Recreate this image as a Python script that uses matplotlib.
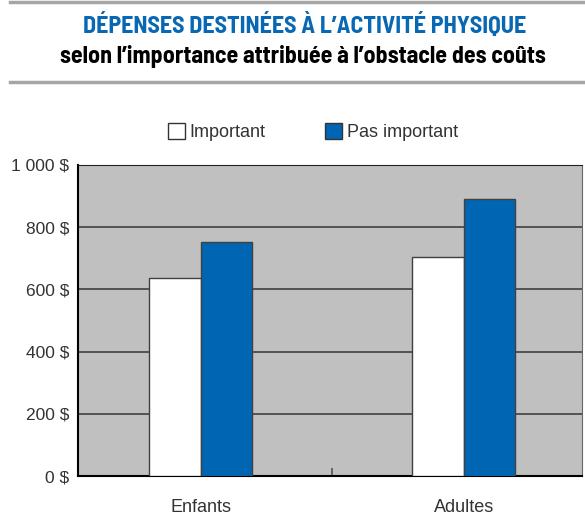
import matplotlib
matplotlib.use("Agg")
import matplotlib.pyplot as plt
from matplotlib.patches import Patch

categories = ["Enfants", "Adultes"]
important = [637, 704]
pas_important = [752, 891]
yticks = [0, 200, 400, 600, 800, 1000]
ytick_labels = ["0 $", "200 $", "400 $", "600 $", "800 $", "1 000 $"]

plt.rcParams["font.family"] = ["Liberation Sans", "DejaVu Sans"]
narrow = ["Barlow Semi Condensed", "Barlow Condensed", "Liberation Sans", "DejaVu Sans"]

fig = plt.figure(figsize=(5.85, 5.15), dpi=100)

# header lines and titles
fig.add_artist(plt.Line2D([10 / 585, 1], [1 - 1.5 / 515] * 2, color="#a6a6a6", lw=2.5))
fig.add_artist(plt.Line2D([10 / 585, 1], [1 - 82 / 515] * 2, color="#a6a6a6", lw=2.5))
fig.text(305 / 585, 1 - 25 / 515, "DÉPENSES DESTINÉES À L’ACTIVITÉ PHYSIQUE", ha="center", va="center",
         family=narrow, weight="bold", fontsize=17.3, color="#0868b4")
fig.text(303 / 585, 1 - 57 / 515, "selon l’importance attribuée à l’obstacle des coûts", ha="center", va="center",
         family=narrow, weight="bold", fontsize=17.2, color="black")

ax = fig.add_axes([78 / 585, 1 - 476 / 515, 504 / 585, 311 / 515])
ax.set_facecolor("#c0c0c0")

x = list(range(len(categories)))
w = 0.196
ax.bar([i - w / 2 for i in x], important, w, color="white", edgecolor="#404040", lw=1, zorder=3)
ax.bar([i + w / 2 for i in x], pas_important, w, color="#0066b3", edgecolor="#404040", lw=1, zorder=3)

ax.set_ylim(0, 1000)
ax.set_xlim(-0.468, 1.45)
ax.set_yticks(yticks)
ax.set_yticklabels(ytick_labels)
ax.yaxis.grid(True, color="#404040", lw=1.2)
ax.set_axisbelow(True)
ax.tick_params(axis="y", length=0, pad=6.5, labelsize=12.5, labelcolor="#333333")

ax.set_xticks([0.5])
ax.set_xticklabels([""])
ax.tick_params(axis="x", direction="in", length=6, width=1.2, color="#555555")
for i, c in zip(x, categories):
    ax.text(i, -0.10, c, transform=ax.get_xaxis_transform(), ha="center", va="center",
            fontsize=13, color="#333333")

ax.spines["left"].set_color("black")
ax.spines["left"].set_linewidth(1.5)
ax.spines["bottom"].set_color("black")
ax.spines["bottom"].set_linewidth(1.5)
ax.spines["top"].set_color("#222222")
ax.spines["right"].set_color("#666666")

handles = [Patch(facecolor="white", edgecolor="#333333", label="Important"),
           Patch(facecolor="#0066b3", edgecolor="#333333", label="Pas important")]
fig.legend(handles=handles, loc="center", bbox_to_anchor=(313 / 585, 1 - 132 / 515), ncol=2,
           frameon=False, fontsize=13, handlelength=0.95, handleheight=0.95,
           handletextpad=0.25, columnspacing=3.3, labelcolor="#333333")

fig.savefig("out.png", dpi=100)
